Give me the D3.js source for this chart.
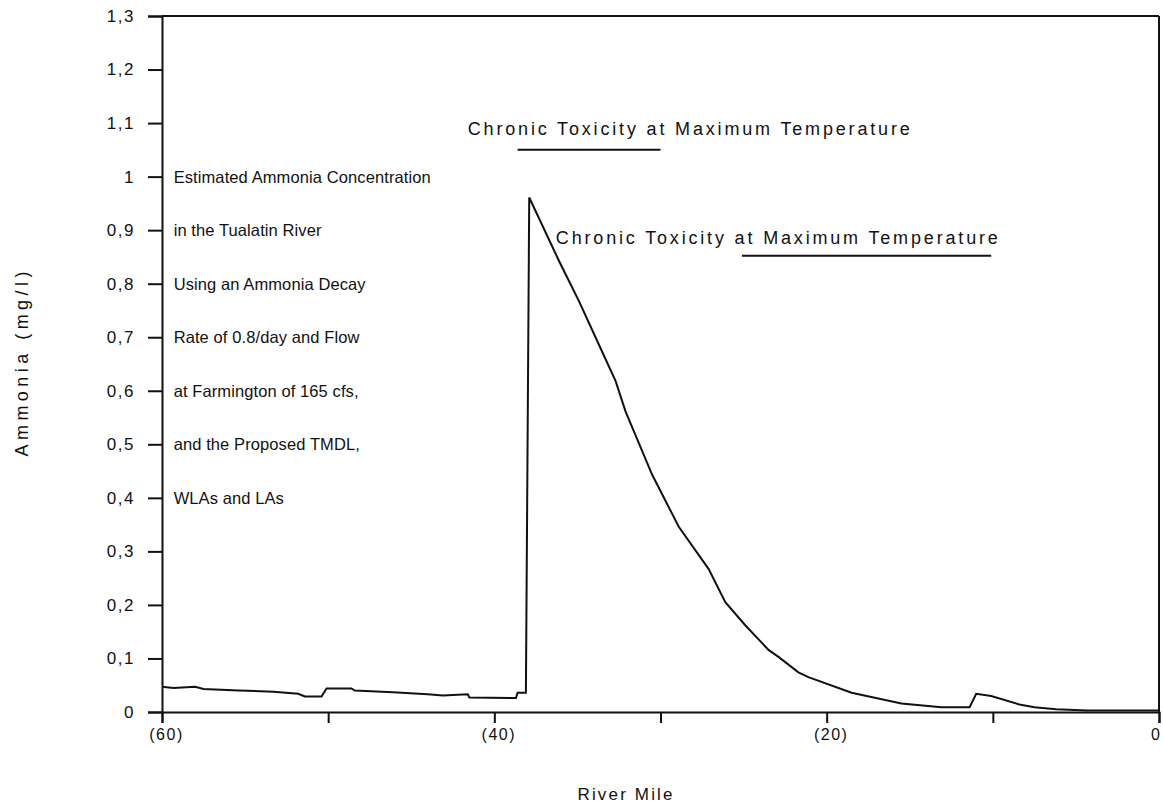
<!DOCTYPE html>
<html>
<head>
<meta charset="utf-8">
<script src="https://cdn.jsdelivr.net/npm/d3@7"></script>
<style>
    body { margin: 0; background: #fff; }
    svg text { font-family: "Liberation Sans", Arial, sans-serif; fill: #111; }
</style>
</head>
<body>
<div id="chart"></div>
<script>
// Data
const riverMile = [-60, -59.3, -58.0, -57.5, -55.4, -53.3, -51.8, -51.4, -50.4, -50.1, -48.6, -48.4,
    -46.1, -44.0, -43.1, -41.6, -41.5, -38.7, -38.6, -38.1, -37.9, -36.1, -34.9, -33.6, -32.7,
    -32.1, -30.5, -28.9, -27.1, -26.1, -24.9, -23.5, -22.9, -21.7, -21.1, -18.5, -15.5, -13.1,
    -11.4, -11.0, -10.1, -8.4, -7.5, -6.2, -4.3, 0];
const ammonia = [0.047, 0.045, 0.047, 0.043, 0.040, 0.038, 0.034, 0.029, 0.029, 0.044, 0.044, 0.040,
    0.037, 0.033, 0.031, 0.033, 0.027, 0.026, 0.036, 0.036, 0.961, 0.842, 0.767, 0.679, 0.618,
    0.561, 0.443, 0.346, 0.267, 0.205, 0.162, 0.116, 0.103, 0.074, 0.065, 0.036, 0.016, 0.009,
    0.009, 0.034, 0.030, 0.014, 0.009, 0.005, 0.003, 0.003];

const yTicks = [0, 0.1, 0.2, 0.3, 0.4, 0.5, 0.6, 0.7, 0.8, 0.9, 1, 1.1, 1.2, 1.3];
const yTickLabels = ["0", "0,1", "0,2", "0,3", "0,4", "0,5", "0,6", "0,7", "0,8", "0,9", "1", "1,1", "1,2", "1,3"];
const xTicks = [-60, -50, -40, -30, -20, -10, 0];
const xTickLabels = { "-60": "(60)", "-40": "(40)", "-20": "(20)", "0": "0" };

const noteLines = ["Estimated Ammonia Concentration", "in the Tualatin River", "Using an Ammonia Decay",
    "Rate of 0.8/day and Flow", "at Farmington of 165 cfs,", "and the Proposed TMDL,", "WLAs and LAs"];
const noteLevels = [1, 0.9, 0.8, 0.7, 0.6, 0.5, 0.4];
const chronicText = "Chronic Toxicity at Maximum Temperature";

// Layout
const W = 1163, H = 803;
const margin = {top: 16, right: 4, bottom: 91, left: 162};
const width = W - margin.left - margin.right;
const height = H - margin.top - margin.bottom;

const svg = d3.select("#chart").append("svg")
    .attr("width", W)
    .attr("height", H);

const g = svg.append("g")
    .attr("transform", `translate(${margin.left},${margin.top})`);

const x = d3.scaleLinear().domain([-60, 0]).range([0, width]);
const y = d3.scaleLinear().domain([0, 1.3]).range([height, 0]);

// Y axis
const yAxis = g.append("g")
    .call(d3.axisLeft(y).tickValues(yTicks).tickSize(14).tickPadding(14)
        .tickFormat((d, i) => yTickLabels[i]));
yAxis.select(".domain").attr("stroke-width", 2).attr("stroke", "#111");
yAxis.selectAll(".tick line").attr("stroke-width", 2).attr("stroke", "#111");
yAxis.selectAll(".tick text")
    .style("font-size", "17px")
    .style("letter-spacing", "1.5px")
    .attr("x", -27);

// X axis
const xAxis = g.append("g")
    .attr("transform", `translate(0,${height})`)
    .call(d3.axisBottom(x).tickValues(xTicks).tickSize(11)
        .tickFormat(d => xTickLabels[d] || ""));
xAxis.select(".domain").attr("stroke-width", 2).attr("stroke", "#111");
xAxis.selectAll(".tick line").attr("stroke-width", 2).attr("stroke", "#111");
xAxis.selectAll(".tick text")
    .style("font-size", "16px")
    .style("letter-spacing", "1.5px")
    .attr("y", 17)
    .attr("dy", "0.71em")
    .attr("dx", 4);
// the last label sits against the page edge
xAxis.selectAll(".tick text").filter(d => d === 0)
    .attr("text-anchor", "end")
    .attr("dx", 2);

// Frame top and right
g.append("line")
    .attr("x1", 0).attr("x2", width).attr("y1", 0).attr("y2", 0)
    .attr("stroke", "#111").attr("stroke-width", 2);
g.append("line")
    .attr("x1", width).attr("x2", width).attr("y1", 0).attr("y2", height)
    .attr("stroke", "#111").attr("stroke-width", 2);

// Concentration line
const data = riverMile.map((m, i) => ({mile: m, value: ammonia[i]}));
const line = d3.line()
    .x(d => x(d.mile))
    .y(d => y(d.value));

g.append("path")
    .datum(data)
    .attr("d", line)
    .attr("fill", "none")
    .attr("stroke", "#111")
    .attr("stroke-width", 2);

// Annotation text block
g.selectAll(".note")
    .data(noteLines)
    .enter()
    .append("text")
    .attr("class", "note")
    .attr("x", x(-59.3))
    .attr("y", (d, i) => y(noteLevels[i]))
    .attr("dy", "0.36em")
    .style("font-size", "16.5px")
    .style("letter-spacing", "0.1px")
    .text(d => d);

// Chronic toxicity labels and their underlines
const chronic = [
    {mile: -41.6, level: 1.09, len: 442, u0: -38.6, u1: -30.0, uLevel: 1.05},
    {mile: -36.3, level: 0.887, len: 442, u0: -25.1, u1: -10.1, uLevel: 0.852}
];
chronic.forEach(c => {
    g.append("text")
        .attr("x", x(c.mile))
        .attr("y", y(c.level))
        .attr("dy", "0.36em")
        .attr("textLength", c.len)
        .attr("lengthAdjust", "spacing")
        .style("font-size", "18px")
        .text(chronicText);
    g.append("line")
        .attr("x1", x(c.u0)).attr("x2", x(c.u1))
        .attr("y1", y(c.uLevel)).attr("y2", y(c.uLevel))
        .attr("stroke", "#111").attr("stroke-width", 2);
});

// Axis titles
svg.append("text")
    .attr("transform", `translate(22,${margin.top + y(0.65)}) rotate(-90)`)
    .attr("text-anchor", "middle")
    .attr("dy", "0.35em")
    .attr("textLength", 185)
    .attr("lengthAdjust", "spacing")
    .style("font-size", "18px")
    .text("Ammonia (mg/l)");

svg.append("text")
    .attr("x", 625)
    .attr("y", 794)
    .attr("text-anchor", "middle")
    .attr("dy", "0.35em")
    .attr("textLength", 95)
    .attr("lengthAdjust", "spacing")
    .style("font-size", "17px")
    .text("River Mile");
</script>
</body>
</html>
